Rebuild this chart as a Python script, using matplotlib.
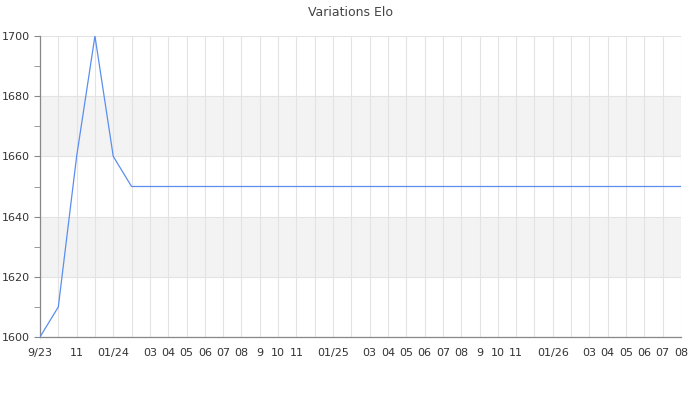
import matplotlib
matplotlib.use("Agg")
import matplotlib.pyplot as plt
from matplotlib.ticker import MultipleLocator

# monthly points, 2023-09 .. 2026-08
months = ["2023-09", "2023-10", "2023-11", "2023-12", "2024-01", "2024-02",
          "2024-03", "2024-04", "2024-05", "2024-06", "2024-07", "2024-08",
          "2024-09", "2024-10", "2024-11", "2024-12", "2025-01", "2025-02",
          "2025-03", "2025-04", "2025-05", "2025-06", "2025-07", "2025-08",
          "2025-09", "2025-10", "2025-11", "2025-12", "2026-01", "2026-02",
          "2026-03", "2026-04", "2026-05", "2026-06", "2026-07", "2026-08"]
elo = [1600, 1610, 1660, 1700, 1660, 1650,
       1650, 1650, 1650, 1650, 1650, 1650,
       1650, 1650, 1650, 1650, 1650, 1650,
       1650, 1650, 1650, 1650, 1650, 1650,
       1650, 1650, 1650, 1650, 1650, 1650,
       1650, 1650, 1650, 1650, 1650, 1650]
tick_labels = ["9/23", "", "11", "", "01/24", "", "03", "04", "05", "06", "07", "08",
               "9", "10", "11", "", "01/25", "", "03", "04", "05", "06", "07", "08",
               "9", "10", "11", "", "01/26", "", "03", "04", "05", "06", "07", "08"]

x = list(range(len(months)))

fig = plt.figure(figsize=(7, 4), dpi=100)
ax = fig.add_axes([40 / 700, 1 - 337 / 400, 641 / 700, 301 / 400])

# alternating bands
for lo, hi in [(1620, 1640), (1660, 1680)]:
    ax.axhspan(lo, hi, color="#f3f3f3", zorder=0, lw=0)

ax.plot(x, elo, color="#5b8ef0", lw=0.9, zorder=3)

ax.set_xlim(0, len(months) - 1)
ax.set_ylim(1600, 1700)
ax.set_xticks(x)
ax.set_xticklabels(tick_labels, fontsize=8, color="#333333")
ax.yaxis.set_major_locator(MultipleLocator(20))
ax.yaxis.set_minor_locator(MultipleLocator(10))
ax.tick_params(axis="y", labelsize=8, labelcolor="#333333", color="#888888", length=4)
ax.tick_params(axis="y", which="minor", color="#888888", length=4)
ax.tick_params(axis="x", length=0, pad=8)

ax.grid(True, color="#e3e3e3", lw=0.8, zorder=1)
ax.set_axisbelow(True)
for side in ["top", "right"]:
    ax.spines[side].set_visible(False)
for side in ["left", "bottom"]:
    ax.spines[side].set_color("#888888")
    ax.spines[side].set_linewidth(0.9)

fig.text(0.5, 1 - 12 / 400, "Variations Elo", ha="center", va="center",
         fontsize=9, color="#444444")

fig.savefig("out.png", dpi=100)
